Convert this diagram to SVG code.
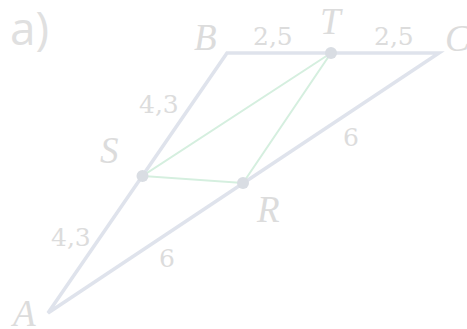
<svg xmlns="http://www.w3.org/2000/svg" width="467" height="329" viewBox="0 0 467 329">
<style>
.tri{fill:none;stroke:#dfe3ec;stroke-width:3.5;stroke-linejoin:miter}
.mid{fill:none;stroke:#d5efdf;stroke-width:2}
.pt{fill:#d9dde3}
.lbl{font-family:"Liberation Serif",serif;font-style:italic;font-size:37px;fill:#dcdcdc}
.num{font-family:"DejaVu Serif","Liberation Serif",serif;font-size:25px;fill:#dcdcdc}
.title{font-family:"Open Sans",sans-serif;font-size:46px;fill:#e0e0e0}
</style>
<text class="title" x="10" y="45">a)</text>
<g id="connectors">
<polygon class="tri" points="48,313 227,53 439,53"/>
<polyline class="mid" points="331,53 142.5,176 243,183 331,53"/>
</g>
<g id="A"><text class="lbl" x="13" y="326">A</text></g>
<g id="B"><text class="lbl" x="194" y="50">B</text></g>
<g id="C"><text class="lbl" x="445" y="51">C</text></g>
<g id="T"><circle class="pt" cx="331" cy="53" r="6"/><text class="lbl" x="320" y="34">T</text></g>
<g id="S"><circle class="pt" cx="142.5" cy="176" r="6"/><text class="lbl" x="100" y="163">S</text></g>
<g id="R"><circle class="pt" cx="243" cy="183" r="6"/><text class="lbl" x="257" y="222">R</text></g>
<g id="labels">
<text class="num" x="253" y="45">2,5</text>
<text class="num" x="374" y="45">2,5</text>
<text class="num" x="139" y="113">4,3</text>
<text class="num" x="51" y="246">4,3</text>
<text class="num" x="343" y="146">6</text>
<text class="num" x="159" y="267">6</text>
</g>
</svg>
